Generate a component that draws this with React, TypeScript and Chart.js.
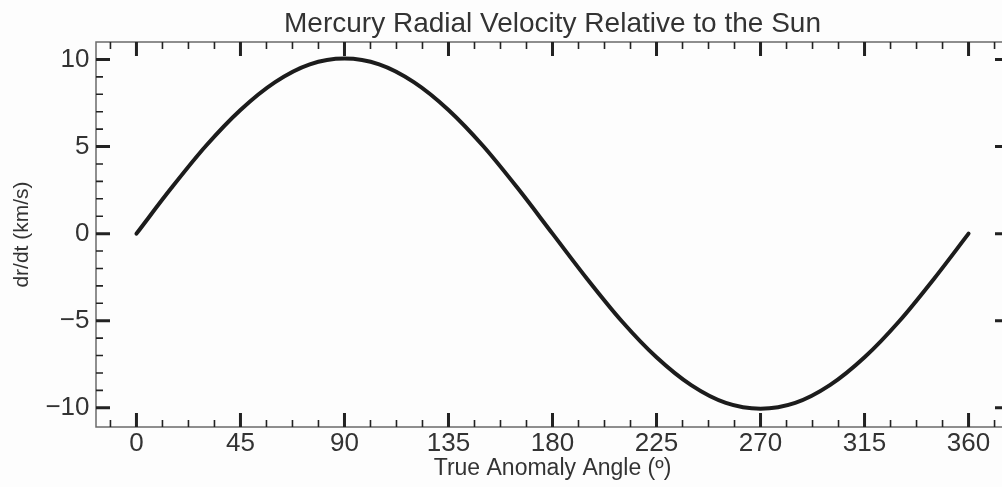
import { useEffect, useRef } from "react";
import { Chart, registerables } from "chart.js";

Chart.register(...registerables);

// True anomaly angle (degrees)
const anomalyDeg = [
  0, 15, 30, 45, 60, 75, 90, 105, 120, 135, 150, 165, 180,
  195, 210, 225, 240, 255, 270, 285, 300, 315, 330, 345, 360,
];
// Radial velocity dr/dt (km/s)
const radialVelocity = [
  0, 2.6, 5.03, 7.1, 8.7, 9.72, 10.05, 9.72, 8.7, 7.1, 5.03, 2.6, 0,
  -2.6, -5.03, -7.1, -8.7, -9.72, -10.05, -9.72, -8.7, -7.1, -5.03, -2.6, 0,
];
const xMajorTicks = [0, 45, 90, 135, 180, 225, 270, 315, 360];
const yMajorTicks = [-10, -5, 0, 5, 10];
const xMinorStep = 11.25;
const yMinorStep = 1;

const chartTitle = "Mercury Radial Velocity Relative to the Sun";
const xTitle = "True Anomaly Angle (º)";
const yTitle = "dr/dt (km/s)";

const FONT = "'Liberation Sans', Arial, Helvetica, sans-serif";
const TEXT = "#333333";

const frameTicksPlugin = {
  id: "frameTicks",
  beforeDraw(chart: any) {
    const ctx = chart.ctx;
    ctx.save();
    ctx.fillStyle = "#fdfdfd";
    ctx.fillRect(0, 0, chart.width, chart.height);
    ctx.restore();
  },
  afterDatasetsDraw(chart: any) {
    const { ctx, chartArea } = chart;
    const { left, right, top, bottom } = chartArea;
    const xs = chart.scales.x;
    const ys = chart.scales.y;
    ctx.save();
    // frame
    ctx.strokeStyle = "#6a6a6a";
    ctx.lineWidth = 1.5;
    ctx.strokeRect(left, top, right - left, bottom - top);

    ctx.strokeStyle = "#222222";
    const drawX = (v: number, len: number, w: number) => {
      const px = xs.getPixelForValue(v);
      if (px < left + 3 || px > right - 3) return;
      ctx.lineWidth = w;
      ctx.beginPath();
      ctx.moveTo(px, bottom);
      ctx.lineTo(px, bottom - len);
      ctx.moveTo(px, top);
      ctx.lineTo(px, top + len);
      ctx.stroke();
    };
    const drawY = (v: number, len: number, w: number) => {
      const py = ys.getPixelForValue(v);
      if (py < top + 4 || py > bottom - 4) return;
      ctx.lineWidth = w;
      ctx.beginPath();
      ctx.moveTo(left, py);
      ctx.lineTo(left + len, py);
      ctx.moveTo(right, py);
      ctx.lineTo(right - len, py);
      ctx.stroke();
    };
    const xMin = xs.min, xMax = xs.max;
    for (let v = Math.ceil(xMin / xMinorStep) * xMinorStep; v <= xMax; v += xMinorStep) {
      if (Math.abs(v / 45 - Math.round(v / 45)) < 1e-6) continue;
      drawX(v, 7, 1.6);
    }
    xMajorTicks.forEach((v) => drawX(v, 14, 3));
    for (let v = Math.ceil(ys.min / yMinorStep) * yMinorStep; v <= ys.max; v += yMinorStep) {
      if (Math.abs(v / 5 - Math.round(v / 5)) < 1e-6) continue;
      drawY(v, 7, 1.6);
    }
    yMajorTicks.forEach((v) => drawY(v, 14, 3));
    ctx.restore();
  },
};

export default function App() {
  const canvasRef = useRef<HTMLCanvasElement | null>(null);

  useEffect(() => {
    document.body.style.margin = "0";
    document.body.style.background = "#fdfdfd";
    const canvas = canvasRef.current;
    if (!canvas) return;
    const chart = new Chart(canvas, {
      type: "line",
      data: {
        datasets: [
          {
            data: anomalyDeg.map((x, i) => ({ x, y: radialVelocity[i] })),
            borderColor: "#1c1c1c",
            borderWidth: 4,
            pointRadius: 0,
            cubicInterpolationMode: "monotone",
            borderCapStyle: "round",
            fill: false,
          },
        ],
      },
      options: {
        animation: false,
        responsive: false,
        devicePixelRatio: 1,
        layout: { padding: { left: 0, right: 3, top: 0, bottom: 0 } },
        plugins: {
          legend: { display: false },
          title: { display: false },
          tooltip: { enabled: false },
        },
        scales: {
          x: {
            type: "linear",
            position: "bottom",
            min: -17.5,
            max: 377.5,
            grid: { display: false, drawTicks: false },
            border: { display: false },
            afterBuildTicks: (scale: any) => {
              scale.ticks = xMajorTicks.map((v) => ({ value: v }));
            },
            afterFit: (scale: any) => {
              scale.height = 60;
            },
            ticks: {
              autoSkip: false,
              maxRotation: 0,
              padding: 1,
              color: TEXT,
              font: { family: FONT, size: 26 },
              callback: (v: any) => String(v),
            },
            title: {
              display: true,
              text: xTitle,
              color: TEXT,
              font: { family: FONT, size: 23 },
              padding: { top: 0, bottom: 5 },
            },
          },
          xTop: {
            type: "linear",
            position: "top",
            min: 0,
            max: 1,
            grid: { display: false, drawTicks: false },
            border: { display: false },
            ticks: { display: false },
            afterFit: (scale: any) => {
              scale.height = 42;
            },
            title: {
              display: true,
              text: chartTitle,
              color: TEXT,
              font: { family: FONT, size: 28 },
              padding: { top: 7, bottom: 0 },
            },
          },
          y: {
            type: "linear",
            position: "left",
            min: -11.1,
            max: 11.0,
            grid: { display: false, drawTicks: false },
            border: { display: false },
            afterBuildTicks: (scale: any) => {
              scale.ticks = yMajorTicks.map((v) => ({ value: v }));
            },
            afterFit: (scale: any) => {
              scale.width = 96;
            },
            ticks: {
              padding: 6.5,
              color: TEXT,
              font: { family: FONT, size: 26 },
              callback: (v: any) => (v < 0 ? "\u2212" + String(Math.abs(v)) : String(v)),
            },
            title: {
              display: true,
              text: yTitle,
              color: TEXT,
              font: { family: FONT, size: 21 },
              padding: { top: 10, bottom: 0 },
            },
          },
        },
      },
      plugins: [frameTicksPlugin],
    } as any);
    return () => chart.destroy();
  }, []);

  return (
    <div style={{ width: 1002, height: 487, overflow: "hidden", background: "#fdfdfd" }}>
      <canvas ref={canvasRef} width={1012} height={487} style={{ display: "block" }} />
    </div>
  );
}
